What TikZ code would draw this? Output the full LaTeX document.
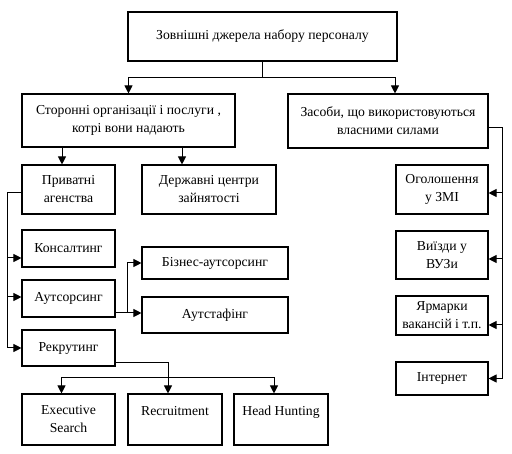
\documentclass[tikz,border=0pt]{standalone}
\usepackage{fontspec}
\setmainfont{Liberation Serif}
\usetikzlibrary{arrows.meta}
\begin{document}
\begin{tikzpicture}[x=1pt,y=-1pt,
  box/.style={draw, line width=1.1pt, align=center, inner sep=0pt, font=\fontsize{13.7}{18}\selectfont},
  conn/.style={line width=1pt},
  arr/.style={line width=1pt, -{Triangle[length=8pt,width=8pt]}}]
\fill[white] (0,0) rectangle (512,454);
\useasboundingbox (0,0) rectangle (512,454);
\node[box, minimum width=269, minimum height=49] (top) at (262.5,36.5) {Зовнішні джерела набору персоналу};
\node[box, minimum width=213, minimum height=53] (L1) at (128.5,120.5) {Сторонні організації і послуги ,\\котрі вони надають};
\node[box, minimum width=200, minimum height=54] (R1) at (388,121) {Засоби, що використовуються\\власними силами};
\node[box, minimum width=93, minimum height=49] (priv) at (68.5,189.5) {Приватні\\агенства};
\node[box, minimum width=134, minimum height=49] (derzh) at (209,189.5) {Державні центри\\зайнятості};
\node[box, minimum width=93, minimum height=37] (kons) at (68.5,248.5) {Консалтинг};
\node[box, minimum width=93, minimum height=37] (auts) at (68.5,298.5) {Аутсорсинг};
\node[box, minimum width=93, minimum height=36] (rekr) at (68.5,348) {Рекрутинг};
\node[box, minimum width=146, minimum height=32] (biz) at (215,263) {Бізнес-аутсорсинг};
\node[box, minimum width=146, minimum height=36] (staf) at (215,315) {Аутстафінг};
\node[box, minimum width=93, minimum height=51] (exec) at (68.5,419.5) {Executive\\Search};
\node[box, minimum width=94, minimum height=51] (recr) at (175,419.5) {Recruitment\\\mbox{}};
\node[box, minimum width=94, minimum height=51] (head) at (281,419.5) {Head Hunting\\\mbox{}};
\node[box, minimum width=92, minimum height=49] (ogol) at (442,189.5) {Оголошення\\у ЗМІ};
\node[box, minimum width=92, minimum height=48] (viizd) at (442,255) {Виїзди у\\ВУЗи};
\node[box, minimum width=92, minimum height=39] (yarm) at (442,315.5) {Ярмарки\\вакансій і т.п.};
\node[box, minimum width=92, minimum height=33] (inet) at (442,378.5) {Інтернет};
% top level
\coordinate (j1) at ([yshift=-16]top.south);
\draw[conn] (top.south) -- (j1);
\draw[arr] (j1) -| (L1.north);
\draw[arr] (j1) -| ([xshift=7]R1.north);
% L1 to second level
\draw[arr] ([xshift=-6.5]priv.north |- L1.south) -- ([xshift=-6.5]priv.north);
\draw[arr] ([xshift=-27]derzh.north |- L1.south) -- ([xshift=-27]derzh.north);
% left bus
\draw[arr] ([yshift=-3.5]priv.west) -| ([xshift=-14]rekr.west) -- (rekr.west);
\draw[arr] ([xshift=-14,yshift=-9.5]kons.west) -- ([yshift=-9.5]kons.west);
\draw[arr] ([xshift=-14,yshift=1.5]auts.west) -- ([yshift=1.5]auts.west);
% outsourcing
\coordinate (a1) at ([yshift=-14.5]auts.east);
\draw[arr] (a1) -- (a1 -| staf.west);
\draw[arr] (a1) -| ([xshift=-14]biz.west) -- (biz.west);
% recruiting
\draw[arr] ([yshift=-15]rekr.east) -| ([xshift=-7]recr.north);
\draw[conn] ([xshift=-7,yshift=16]exec.north) -- ([xshift=-7,yshift=16]head.north);
\draw[arr] ([xshift=-7,yshift=16]exec.north) -- ([xshift=-7]exec.north);
\draw[arr] ([xshift=-7,yshift=16]head.north) -- ([xshift=-7]head.north);
% right bus
\draw[arr] ([yshift=-7]R1.east) -| ([xshift=14]inet.east) -- (inet.east);
\draw[arr] ([xshift=14,yshift=-3.5]ogol.east) -- ([yshift=-3.5]ogol.east);
\draw[arr] ([xshift=14,yshift=-4]viizd.east) -- ([yshift=-4]viizd.east);
\draw[arr] ([xshift=14,yshift=-9.5]yarm.east) -- ([yshift=-9.5]yarm.east);
\end{tikzpicture}
\end{document}
